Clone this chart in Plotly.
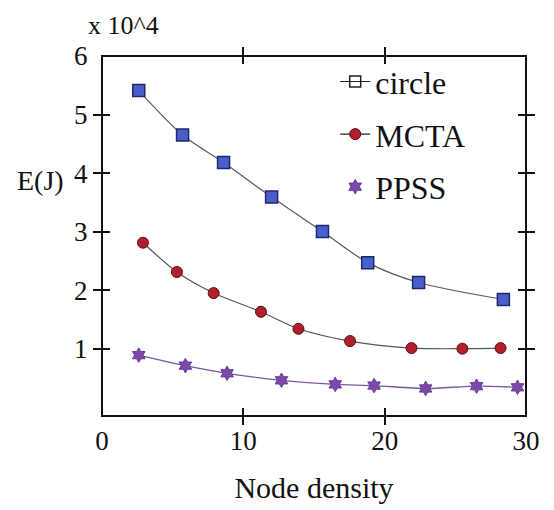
import plotly.graph_objects as go

# ---- data (energy in units of 10^4 J) ----
circle_x = [2.6, 5.7, 8.6, 12.0, 15.6, 18.8, 22.4, 28.4]
circle_y = [5.41, 4.65, 4.18, 3.59, 3.00, 2.47, 2.13, 1.84]

mcta_x = [2.9, 5.3, 7.9, 11.25, 13.9, 17.55, 21.9, 25.5, 28.2]
mcta_y = [2.81, 2.31, 1.95, 1.63, 1.34, 1.13, 1.01, 1.00, 1.01]

ppss_x = [2.6, 5.9, 8.85, 12.7, 16.5, 19.25, 22.9, 26.5, 29.4]
ppss_y = [0.89, 0.71, 0.58, 0.46, 0.39, 0.37, 0.32, 0.36, 0.34]

x_tick_vals = [0, 10, 20, 30]
x_cross_ticks = [10, 20]
y_tick_vals = [1, 2, 3, 4, 5, 6]
y_cross_ticks = [1, 2, 3, 4, 5]
EPS = 1e-6  # keeps the outside (minor) tick half from being merged with the major tick

FONT = "Times New Roman, Liberation Serif, serif"
X_RANGE = [0, 30]
Y_RANGE = [-0.15, 6]
INK = "#111111"
CLEAR = "rgba(0,0,0,0)"

fig = go.Figure()

fig.add_trace(go.Scatter(
    x=circle_x, y=circle_y, mode="lines+markers", name="circle",
    line=dict(color="#5a5a5a", width=1.2, shape="spline", smoothing=0.8),
    marker=dict(symbol="square", size=12, color="#4b5fcc",
                line=dict(color="#1c2870", width=1.5)),
    showlegend=False, legendgroup="a"))
fig.add_trace(go.Scatter(
    x=[None], y=[None], mode="lines+markers", name="circle",
    line=dict(color="#222222", width=1.2),
    marker=dict(symbol="square-open", size=11, color="#222222", line=dict(width=1.5)),
    legendgroup="a"))

fig.add_trace(go.Scatter(
    x=mcta_x, y=mcta_y, mode="lines+markers", name="MCTA",
    line=dict(color="#555555", width=1.2, shape="spline", smoothing=0.8),
    marker=dict(symbol="circle", size=11, color="#b0202c",
                line=dict(color="#5a0d12", width=1)),
    showlegend=False, legendgroup="b"))
fig.add_trace(go.Scatter(
    x=[None], y=[None], mode="lines+markers", name="MCTA",
    line=dict(color="#222222", width=1.2),
    marker=dict(symbol="circle", size=11, color="#b0202c",
                line=dict(color="#5a0d12", width=1)),
    legendgroup="b"))

fig.add_trace(go.Scatter(
    x=ppss_x, y=ppss_y, mode="lines+markers", name="PPSS",
    line=dict(color="#7a55a0", width=1.3, shape="spline", smoothing=0.8),
    marker=dict(symbol="hexagram", size=11, color="#7b4aa8",
                line=dict(color="#6a3a98", width=1)),
    showlegend=False, legendgroup="c"))
fig.add_trace(go.Scatter(
    x=[None], y=[None], mode="markers", name="PPSS",
    marker=dict(symbol="hexagram", size=11, color="#7b4aa8",
                line=dict(color="#6a3a98", width=1)),
    legendgroup="c"))

# empty helper traces so the tick-only overlay axes get drawn
for xa, ya in (("x2", "y2"), ("x3", "y3")):
    fig.add_trace(go.Scatter(x=[None], y=[None], xaxis=xa, yaxis=ya,
                             showlegend=False, hoverinfo="skip"))

plain = dict(showgrid=False, zeroline=False, showline=False)


def tick_axis(rng, vals, cross, over, side, anchor):
    return dict(range=rng, overlaying=over, side=side, anchor=anchor,
                tickvals=vals, ticks="inside", ticklen=8, tickwidth=1.5, tickcolor=INK,
                minor=dict(tickmode="array", tickvals=[v + EPS for v in cross],
                           ticks="outside", ticklen=8, tickwidth=1.5, tickcolor=INK),
                showticklabels=False, **plain)


# the page body adds an 8px offset, so the figure is made 8px smaller
fig.update_layout(
    width=546, height=502,
    margin=dict(l=94, r=28, t=48, b=86),
    paper_bgcolor="white", plot_bgcolor="white",
    font=dict(family=FONT, size=27, color=INK),
    xaxis=dict(range=X_RANGE, tickvals=x_tick_vals, ticks="outside", ticklen=1,
               tickcolor=CLEAR, tickfont=dict(family=FONT, size=27),
               title=dict(text="Node density", font=dict(family=FONT, size=30), standoff=21),
               **plain),
    yaxis=dict(range=Y_RANGE, tickvals=y_tick_vals, ticks="outside", ticklen=8,
               tickcolor=CLEAR, tickfont=dict(family=FONT, size=27), **plain),
    xaxis2=tick_axis(X_RANGE, x_tick_vals, x_cross_ticks, "x", "bottom", "y2"),
    yaxis2=tick_axis(Y_RANGE, y_tick_vals, y_cross_ticks, "y", "left", "x2"),
    xaxis3=tick_axis(X_RANGE, x_tick_vals, x_cross_ticks, "x", "top", "y3"),
    yaxis3=tick_axis(Y_RANGE, y_tick_vals, y_cross_ticks, "y", "right", "x3"),
    legend=dict(x=0.55, y=1.005, xanchor="left", yanchor="top",
                bgcolor=CLEAR, font=dict(family=FONT, size=32),
                traceorder="grouped", tracegroupgap=8, itemwidth=30),
    shapes=[dict(type="rect", xref="paper", yref="paper", x0=0, x1=1, y0=0, y1=1,
                 line=dict(color=INK, width=2), layer="above")],
    annotations=[
        dict(text="x 10^4", xref="paper", yref="paper", x=0.05, y=1.13,
             showarrow=False, font=dict(family=FONT, size=26),
             xanchor="center", yanchor="top"),
        dict(text="E(J)", xref="paper", yref="paper", x=-0.146, y=0.655,
             showarrow=False, font=dict(family=FONT, size=28),
             xanchor="center", yanchor="middle"),
    ],
)

fig.write_html("out.html")
